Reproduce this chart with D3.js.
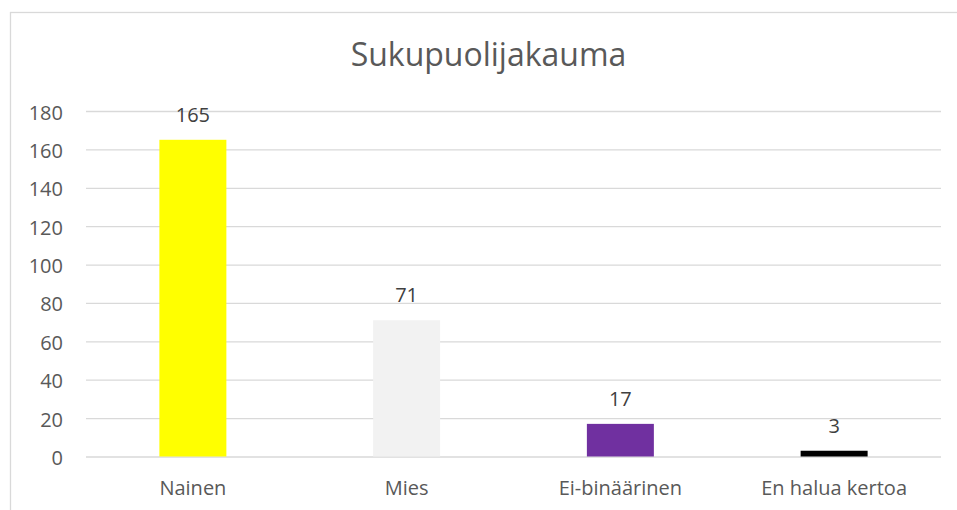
<!DOCTYPE html>
<html>
<head>
<meta charset="utf-8">
<script src="https://cdn.jsdelivr.net/npm/d3@7"></script>
<style>
  body { margin: 0; background: #fff; }
  svg { display: block; font-family: "Open Sans", sans-serif; }
</style>
</head>
<body>
<svg width="957" height="510"></svg>
<script>
// chart data
var categories = ["Nainen", "Mies", "Ei-binäärinen", "En halua kertoa"];
var values = [165, 71, 17, 3];
var barColours = ["#ffff00", "#f2f2f2", "#7030a0", "#000000"];
var yTicks = [0, 20, 40, 60, 80, 100, 120, 140, 160, 180];
var title = "Sukupuolijakauma";

var svg = d3.select("svg"),
    margin = {top: 111, right: 16, bottom: 53.5, left: 86},
    width = +svg.attr("width") - margin.left - margin.right,
    height = +svg.attr("height") - margin.top - margin.bottom;

// chart frame
svg.append("rect")
    .attr("x", 10.5).attr("y", 12.5)
    .attr("width", 980).attr("height", 520)
    .attr("fill", "#fff")
    .attr("stroke", "#d9d9d9")
    .attr("stroke-width", 1.3);

svg.append("text")
    .attr("x", 488.5)
    .attr("y", 66)
    .attr("text-anchor", "middle")
    .attr("font-size", 32)
    .attr("fill", "#595959")
    .text(title);

var x = d3.scaleBand().domain(categories).range([0, width])
    .paddingInner(0.6866).paddingOuter(0.3433);
var y = d3.scaleLinear().domain([0, 180]).range([height, 0]);

var g = svg.append("g")
    .attr("transform", "translate(" + margin.left + "," + margin.top + ")");

// gridlines
g.append("g")
    .call(d3.axisLeft(y).tickValues(yTicks).tickSize(-width).tickFormat(""))
    .call(function(s) {
      s.select(".domain").remove();
      s.selectAll("line").attr("stroke", "#d9d9d9").attr("stroke-width", 1.3);
    });

// y labels
g.append("g")
    .attr("transform", "translate(-23,0)")
    .call(d3.axisLeft(y).tickValues(yTicks).tickSize(0).tickPadding(0))
    .call(function(s) {
      s.select(".domain").remove();
      s.selectAll("text")
        .attr("fill", "#595959")
        .attr("font-size", 20)
        .attr("font-family", "Open Sans, sans-serif")
        .attr("dy", "0.4em");
    });

// bars
g.selectAll(".bar")
    .data(values)
    .enter().append("rect")
      .attr("class", "bar")
      .attr("x", function(d, i) { return x(categories[i]); })
      .attr("width", x.bandwidth())
      .attr("y", function(d) { return y(d); })
      .attr("height", function(d) { return height - y(d); })
      .attr("fill", function(d, i) { return barColours[i]; });

// value labels
g.selectAll(".val")
    .data(values)
    .enter().append("text")
      .attr("class", "val")
      .attr("x", function(d, i) { return x(categories[i]) + x.bandwidth() / 2; })
      .attr("y", function(d) { return y(d) - 18; })
      .attr("text-anchor", "middle")
      .attr("font-size", 20)
      .attr("fill", "#404040")
      .text(function(d) { return d; });

// x labels
g.append("g")
    .attr("transform", "translate(0," + height + ")")
    .call(d3.axisBottom(x).tickSize(0).tickPadding(0))
    .call(function(s) {
      s.select(".domain").remove();
      s.selectAll("text")
        .attr("fill", "#595959")
        .attr("font-size", 20)
        .attr("font-family", "Open Sans, sans-serif")
        .attr("dy", 0)
        .attr("y", 38.5);
    });
</script>
</body>
</html>
